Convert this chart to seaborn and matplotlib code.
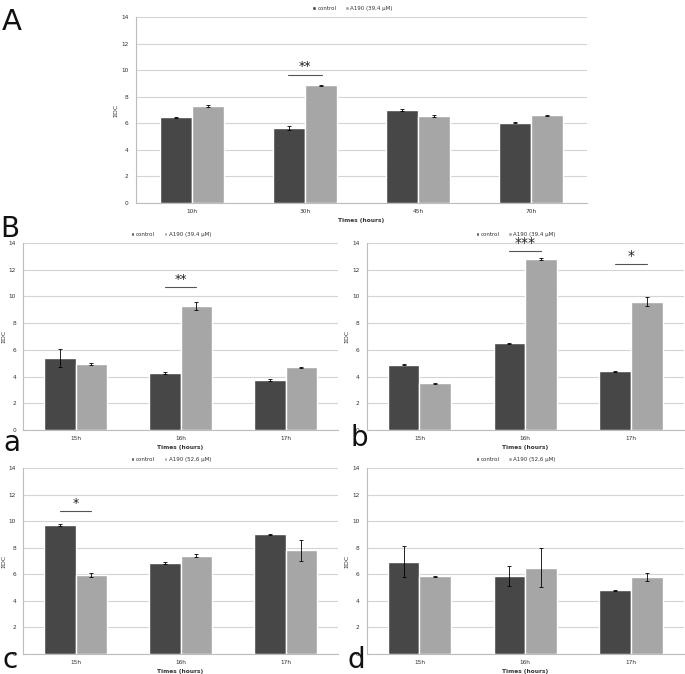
import numpy as np
import pandas as pd
import matplotlib
matplotlib.use("Agg")
import matplotlib.pyplot as plt
import seaborn as sns

# ---------------- data ----------------
times_A = ["10h", "30h", "45h", "70h"]
ctrl_A = [6.45, 5.65, 7.0, 6.05]
ctrl_A_err = [0.05, 0.12, 0.08, 0.05]
trt_A = [7.3, 8.85, 6.55, 6.6]
trt_A_err = [0.05, 0.05, 0.1, 0.06]

times_B = ["15h", "16h", "17h"]
ctrl_a = [5.4, 4.25, 3.75]
ctrl_a_err = [0.7, 0.08, 0.05]
trt_a = [4.95, 9.25, 4.7]
trt_a_err = [0.1, 0.3, 0.05]

ctrl_b = [4.9, 6.5, 4.4]
ctrl_b_err = [0.05, 0.03, 0.05]
trt_b = [3.5, 12.8, 9.6]
trt_b_err = [0.03, 0.1, 0.35]

ctrl_c = [9.7, 6.85, 9.0]
ctrl_c_err = [0.1, 0.05, 0.05]
trt_c = [5.95, 7.4, 7.8]
trt_c_err = [0.15, 0.1, 0.8]

ctrl_d = [6.95, 5.85, 4.8]
ctrl_d_err = [1.15, 0.75, 0.05]
trt_d = [5.85, 6.5, 5.8]
trt_d_err = [0.05, 1.45, 0.3]

dose_39 = "A190 (39,4 µM)"
dose_52 = "A190 (52,6 µM)"

# significance marks: (category index, stars, line level)
sig_A = [(1, "**", 9.65)]
sig_a = [(1, "**", 10.7)]
sig_b = [(1, "***", 13.4), (2, "*", 12.4)]
sig_c = [(0, "*", 10.75)]
sig_d = []

# ---------------- style ----------------
sns.set_theme(style="white")
plt.rcParams['font.family'] = ['DejaVu Sans']
C_CTRL = "#474747"
C_TRT = "#a6a6a6"
GRID = "#d4d4d4"

fig = plt.figure(figsize=(6.85, 6.74), dpi=100)


def panel(rect, times, ctrl, ctrl_err, trt, trt_err, dose, width, sigs,
          star_size=9, leg_x=0.5):
    ax = fig.add_axes(rect)
    n = len(times)
    df = pd.DataFrame({
        "time": times * 2,
        "group": ["control"] * n + [dose] * n,
        "value": ctrl + trt,
    })
    sns.barplot(data=df, x="time", y="value", hue="group",
                palette=[C_CTRL, C_TRT], width=width, errorbar=None,
                saturation=1, ax=ax, zorder=3)
    for cont, errs in zip(ax.containers, [ctrl_err, trt_err]):
        xs = [b.get_x() + b.get_width() / 2 for b in cont]
        ys = [b.get_height() for b in cont]
        ax.errorbar(xs, ys, yerr=errs, fmt="none", ecolor="black",
                    elinewidth=0.6, capsize=1.3, capthick=0.6, zorder=4)
    ax.set_ylim(0, 14)
    ax.set_xlim(-0.5, n - 0.5)
    ax.set_yticks(np.arange(0, 15, 2))
    ax.yaxis.grid(True, color=GRID, linewidth=0.8, zorder=0)
    ax.set_axisbelow(True)
    for s in ["top", "right"]:
        ax.spines[s].set_visible(False)
    for s in ["left", "bottom"]:
        ax.spines[s].set_color("#bdbdbd")
        ax.spines[s].set_linewidth(0.8)
    ax.tick_params(axis="y", labelsize=4.2, length=2, color="#bdbdbd",
                   pad=3, labelcolor="#333333")
    ax.tick_params(axis="x", labelsize=4.2, length=0, pad=4,
                   labelcolor="#333333")
    ax.set_xticks(np.arange(-0.5, n, 1.0), minor=True)
    ax.tick_params(axis="x", which="minor", length=2, color="#bdbdbd")
    ax.set_xlabel("Times (hours)", fontsize=4.2, fontweight="bold",
                  labelpad=3, color="#333333")
    ax.set_ylabel("ΣDC", fontsize=4.5, labelpad=2, color="#333333")
    ax.legend(loc="lower center", bbox_to_anchor=(leg_x, 1.015), ncol=2,
              frameon=False, fontsize=4, handlelength=0.6,
              handleheight=0.6, handletextpad=0.3, columnspacing=1.6,
              borderaxespad=0.2, labelcolor="#333333")
    for idx, stars, lvl in sigs:
        ax.plot([idx - 0.15, idx + 0.15], [lvl, lvl], color="#555555",
                linewidth=0.8, zorder=5)
        ax.text(idx, lvl + 0.1, stars, ha="center", va="bottom",
                fontsize=star_size, color="#222222", zorder=5)
    return ax


W, H = 685.0, 674.0


def rect(left, top, right, bottom):
    return [left / W, 1 - bottom / H, (right - left) / W, (bottom - top) / H]


panel(rect(135.5, 17, 587.5, 203), times_A, ctrl_A, ctrl_A_err, trt_A,
      trt_A_err, dose_39, 0.57, sig_A, star_size=9, leg_x=0.48)
panel(rect(23, 243, 338, 430), times_B, ctrl_a, ctrl_a_err, trt_a,
      trt_a_err, dose_39, 0.6, sig_a, star_size=9, leg_x=0.47)
panel(rect(366.5, 243, 684, 430), times_B, ctrl_b, ctrl_b_err, trt_b,
      trt_b_err, dose_39, 0.6, sig_b, star_size=10, leg_x=0.47)
panel(rect(23, 468, 338, 654), times_B, ctrl_c, ctrl_c_err, trt_c,
      trt_c_err, dose_52, 0.6, sig_c, star_size=9, leg_x=0.47)
panel(rect(366.5, 468, 684, 654), times_B, ctrl_d, ctrl_d_err, trt_d,
      trt_d_err, dose_52, 0.6, sig_d, star_size=9, leg_x=0.47)

# panel letters (baseline positions in pixels)
for txt, x, y, fs in [("A", 2, 30, 21), ("B", 0, 237, 20), ("a", 3, 451, 20),
                      ("b", 350, 446, 20), ("c", 3, 668, 20),
                      ("d", 348, 668, 20)]:
    fig.text(x / W, 1 - y / H, txt, fontsize=fs, va="baseline", ha="left",
             color="#111111")

fig.savefig("out.png", dpi=100, facecolor="white")
